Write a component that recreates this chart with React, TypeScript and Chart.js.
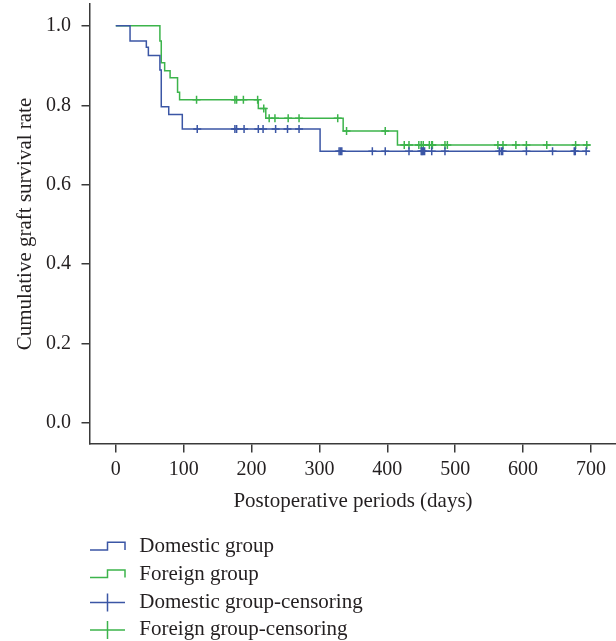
import React, { useEffect, useRef } from "react";
import { Chart, registerables } from "chart.js";

Chart.register(...registerables);

// Kaplan-Meier step data (days, cumulative survival)
const domesticTimes = [0, 21, 45, 48, 65, 67, 78, 98, 301, 698];
const domesticSurvival = [1.0, 0.962, 0.946, 0.925, 0.889, 0.796, 0.777, 0.74, 0.684, 0.684];

const foreignTimes = [0, 65, 67, 72, 80, 91, 94, 210, 221, 335, 415, 699];
const foreignSurvival = [1.0, 0.962, 0.907, 0.887, 0.869, 0.833, 0.814, 0.792, 0.767, 0.735, 0.7, 0.7];

// Censoring times (days)
const domesticCensor = [
  120, 175.5, 178, 189, 210, 217, 235.5, 253, 270, 329, 331, 333, 378, 397, 432, 450, 451.5, 453,
  455, 465.5, 485, 565, 568, 570, 605, 643.5, 675.5, 677, 693,
];
const foreignCensor = [
  119, 175.5, 178, 188, 209, 218, 226, 234.5, 254, 270, 327, 340, 397, 425, 432, 446.5, 450, 453,
  462, 465.5, 466.5, 485, 488.5, 563, 570.5, 589.5, 605, 635, 677.5, 694,
];

const xTickValues = [0, 100, 200, 300, 400, 500, 600, 700];
const yTickValues = [0, 0.2, 0.4, 0.6, 0.8, 1.0];

const legendLabels = [
  "Domestic group",
  "Foreign group",
  "Domestic group-censoring",
  "Foreign group-censoring",
];

const BLUE = "#3b56a5";
const GREEN = "#3cb44b";
const AXIS = "#3a3a3a";
const TEXT = "#231f20";
const FONT = "'Liberation Serif', 'Times New Roman', serif";

function survivalAt(times: number[], surv: number[], t: number): number {
  let s = surv[0];
  for (let i = 0; i < times.length; i++) {
    if (times[i] <= t) s = surv[i];
  }
  return s;
}

const legendPlugin = {
  id: "kmLegend",
  afterDraw(chart: any) {
    const ctx = chart.ctx as CanvasRenderingContext2D;
    const left = chart.chartArea.left;
    ctx.save();
    legendLabels.forEach((label, i) => {
      const base = 552.3 + i * 27.6;
      const color = i % 2 === 0 ? BLUE : GREEN;
      ctx.strokeStyle = color;
      ctx.lineWidth = 1.5;
      ctx.beginPath();
      if (i < 2) {
        ctx.moveTo(left, base - 2.3);
        ctx.lineTo(left + 17.5, base - 2.3);
        ctx.lineTo(left + 17.5, base - 10);
        ctx.lineTo(left + 35, base - 10);
        ctx.lineTo(left + 35, base - 2.3);
      } else {
        ctx.moveTo(left, base - 5);
        ctx.lineTo(left + 35, base - 5);
        ctx.moveTo(left + 17.5, base - 14);
        ctx.lineTo(left + 17.5, base + 4);
      }
      ctx.stroke();
      ctx.fillStyle = TEXT;
      ctx.font = `21px ${FONT}`;
      ctx.textAlign = "left";
      ctx.textBaseline = "alphabetic";
      ctx.fillText(label, left + 49.3, base);
    });
    ctx.restore();
  },
};

export default function App() {
  const ref = useRef<HTMLCanvasElement>(null);

  useEffect(() => {
    const canvas = ref.current;
    if (!canvas) return;

    const domesticLine = domesticTimes.map((t, i) => ({ x: t, y: domesticSurvival[i] }));
    const foreignLine = foreignTimes.map((t, i) => ({ x: t, y: foreignSurvival[i] }));
    const domesticMarks = domesticCensor.map((t) => ({
      x: t,
      y: survivalAt(domesticTimes, domesticSurvival, t),
    }));
    const foreignMarks = foreignCensor.map((t) => ({
      x: t,
      y: survivalAt(foreignTimes, foreignSurvival, t),
    }));

    const chart = new Chart(canvas, {
      type: "line",
      data: {
        datasets: [
          {
            label: legendLabels[2],
            data: domesticMarks,
            showLine: false,
            pointStyle: "cross",
            pointRadius: 4,
            pointBorderWidth: 1.5,
            borderColor: BLUE,
            backgroundColor: BLUE,
            order: 0,
          },
          {
            label: legendLabels[3],
            data: foreignMarks,
            showLine: false,
            pointStyle: "cross",
            pointRadius: 4,
            pointBorderWidth: 1.5,
            borderColor: GREEN,
            backgroundColor: GREEN,
            order: 0,
          },
          {
            label: legendLabels[0],
            data: domesticLine,
            stepped: true,
            borderColor: BLUE,
            borderWidth: 1.5,
            pointRadius: 0,
            fill: false,
            order: 1,
          },
          {
            label: legendLabels[1],
            data: foreignLine,
            stepped: true,
            borderColor: GREEN,
            borderWidth: 1.5,
            pointRadius: 0,
            fill: false,
            order: 1,
          },
        ],
      },
      options: {
        responsive: false,
        animation: false,
        events: [],
        layout: { autoPadding: false, padding: { left: 0, top: 4, right: 0, bottom: 127 } },
        plugins: {
          legend: { display: false },
          tooltip: { enabled: false },
        },
        scales: {
          x: {
            type: "linear",
            min: -38,
            max: 737,
            afterBuildTicks: (s: any) => {
              s.ticks = xTickValues.map((v) => ({ value: v }));
            },
            afterFit: (s: any) => {
              s.height = 70;
              s.paddingLeft = 0;
              s.paddingRight = 0;
              s.paddingTop = 0;
              s.paddingBottom = 0;
            },
            grid: {
              display: true,
              drawOnChartArea: false,
              drawTicks: true,
              tickLength: 8.5,
              color: AXIS,
              lineWidth: 1.5,
            },
            border: { display: true, color: AXIS, width: 1.5 },
            ticks: {
              font: { family: FONT, size: 20 },
              color: TEXT,
              padding: 5,
              maxRotation: 0,
              autoSkip: false,
              callback: (v: any) => String(v),
            },
            title: {
              display: true,
              text: "Postoperative periods (days)",
              font: { family: FONT, size: 21 },
              color: TEXT,
              padding: { top: 0, bottom: 0 },
            },
          },
          y: {
            type: "linear",
            min: -0.053,
            max: 1.055,
            afterBuildTicks: (s: any) => {
              s.ticks = yTickValues.map((v) => ({ value: v }));
            },
            afterFit: (s: any) => {
              s.width = 90;
              s.paddingLeft = 0;
              s.paddingRight = 0;
              s.paddingTop = 0;
              s.paddingBottom = 0;
            },
            grid: {
              display: true,
              drawOnChartArea: false,
              drawTicks: true,
              tickLength: 8.5,
              color: AXIS,
              lineWidth: 1.5,
            },
            border: { display: true, color: AXIS, width: 1.5 },
            ticks: {
              font: { family: FONT, size: 20 },
              color: TEXT,
              padding: 10.5,
              autoSkip: false,
              callback: (v: any) => Number(v).toFixed(1),
            },
            title: {
              display: true,
              text: "Cumulative graft survival rate",
              font: { family: FONT, size: 21 },
              color: TEXT,
              padding: { top: 13, bottom: 0 },
            },
          },
        },
      },
      plugins: [legendPlugin],
    } as any);

    return () => chart.destroy();
  }, []);

  return (
    <div
      style={{
        position: "fixed",
        left: 0,
        top: 0,
        width: 616,
        height: 641,
        background: "#ffffff",
      }}
    >
      <canvas ref={ref} width={616} height={641} style={{ display: "block" }} />
    </div>
  );
}
